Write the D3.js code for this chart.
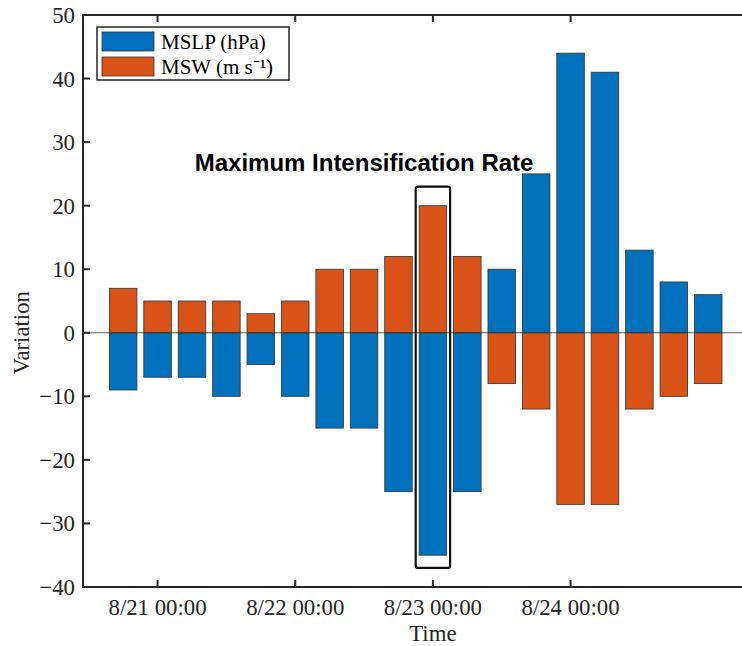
<!DOCTYPE html>
<html>
<head>
<meta charset="utf-8">
<script src="https://cdn.jsdelivr.net/npm/d3@7"></script>
<style>
  html, body { margin: 0; padding: 0; background: #fff; }
  svg { display: block; }
</style>
</head>
<body>
<svg id="chart" width="742" height="646"></svg>
<script>
// ---- data ----
const times = ["08/20 18:00","08/21 00:00","08/21 06:00","08/21 12:00","08/21 18:00",
  "08/22 00:00","08/22 06:00","08/22 12:00","08/22 18:00","08/23 00:00","08/23 06:00",
  "08/23 12:00","08/23 18:00","08/24 00:00","08/24 06:00","08/24 12:00","08/24 18:00","08/25 00:00"];
const mslp = [-9, -7, -7, -10, -5, -10, -15, -15, -25, -35, -25, 10, 25, 44, 41, 13, 8, 6];
const msw  = [7, 5, 5, 5, 3, 5, 10, 10, 12, 20, 12, -8, -12, -27, -27, -12, -10, -8];
const seriesNames = ["MSLP (hPa)", "MSW (m s\u207B\u00B9)"];
const yTicks = [-40, -30, -20, -10, 0, 10, 20, 30, 40, 50];
const xTickLabels = ["08/21 00:00", "08/22 00:00", "08/23 00:00", "08/24 00:00"];
const highlightTime = "08/23 00:00";
const highlightRange = [-37, 23];
const annotation = "Maximum Intensification Rate";

(function () {
const parse = d3.utcParse("%m/%d %H:%M");
const fmt = d3.utcFormat("%-m/%d %H:%M");
const colors = ["#0072BD", "#D95319"];

const svg = d3.select("#chart");
const pTop = 15, pBottom = 587, pLeft = 83;
const t0 = parse("08/21 00:00");
const pxPerHour = (571 - 158) / 72;
const dStart = d3.utcHour.offset(t0, -13), dEnd = d3.utcHour.offset(t0, 108);
const x = d3.scaleUtc().domain([dStart, dEnd])
  .range([pLeft, pLeft + 121 * pxPerHour]);
const pRight = x.range()[1];
const y = d3.scaleLinear().domain([-40, 50]).range([pBottom, pTop]);
const barW = 0.8 * 6 * pxPerHour;

const data = times.map((t, i) => ({ t: parse(t), mslp: mslp[i], msw: msw[i] }));

const g = svg.append("g");

function drawBars(key, color) {
  g.selectAll(null).data(data).enter().append("rect")
    .attr("x", d => x(d.t) - barW / 2)
    .attr("width", barW)
    .attr("y", d => y(Math.max(0, d[key])))
    .attr("height", d => Math.abs(y(d[key]) - y(0)))
    .attr("fill", color)
    .attr("stroke", "#333")
    .attr("stroke-width", 0.8);
}
drawBars("mslp", colors[0]);
drawBars("msw", colors[1]);

g.append("line").attr("x1", pLeft).attr("x2", pRight).attr("y1", y(0)).attr("y2", y(0))
  .attr("stroke", "#333").attr("stroke-width", 0.8);

const ht = parse(highlightTime);
g.append("rect")
  .attr("x", x(d3.utcHour.offset(ht, -3)))
  .attr("width", x(d3.utcHour.offset(ht, 3)) - x(d3.utcHour.offset(ht, -3)))
  .attr("y", y(highlightRange[1]))
  .attr("height", y(highlightRange[0]) - y(highlightRange[1]))
  .attr("rx", 2.5)
  .attr("fill", "none").attr("stroke", "#111").attr("stroke-width", 2.2);

g.append("text")
  .attr("x", x(parse("08/22 12:00")))
  .attr("y", y(25.5))
  .attr("text-anchor", "middle")
  .attr("font-family", "Liberation Sans, Arial, sans-serif")
  .attr("font-weight", "bold")
  .attr("font-size", 24)
  .attr("fill", "#000")
  .text(annotation);

const axCol = "#262626";
const tickFont = "Liberation Serif, Times New Roman, serif";
const fs = 22.8;
g.append("rect").attr("x", pLeft).attr("y", pTop).attr("width", pRight - pLeft).attr("height", pBottom - pTop)
  .attr("fill", "none").attr("stroke", axCol).attr("stroke-width", 2);

yTicks.forEach(v => {
  g.append("line").attr("x1", pLeft).attr("x2", pLeft + 7).attr("y1", y(v)).attr("y2", y(v))
    .attr("stroke", axCol).attr("stroke-width", 2);
  g.append("text").attr("x", pLeft - 8).attr("y", y(v)).attr("dy", "0.35em")
    .attr("text-anchor", "end").attr("font-family", tickFont).attr("font-size", fs)
    .attr("fill", axCol)
    .text(v < 0 ? "\u2212" + Math.abs(v) : v);
});

xTickLabels.map(parse).forEach(t => {
  g.append("line").attr("x1", x(t)).attr("x2", x(t)).attr("y1", pBottom).attr("y2", pBottom - 7)
    .attr("stroke", axCol).attr("stroke-width", 2);
  g.append("line").attr("x1", x(t)).attr("x2", x(t)).attr("y1", pTop).attr("y2", pTop + 7)
    .attr("stroke", axCol).attr("stroke-width", 2);
  g.append("text").attr("x", x(t)).attr("y", 615)
    .attr("text-anchor", "middle").attr("font-family", tickFont).attr("font-size", fs)
    .attr("fill", axCol).text(fmt(t));
});

g.append("text").attr("x", x(ht)).attr("y", 641).attr("text-anchor", "middle")
  .attr("font-family", tickFont).attr("font-size", fs).attr("fill", axCol).text("Time");
g.append("text").attr("transform", `translate(29,${y(0)}) rotate(-90)`)
  .attr("text-anchor", "middle").attr("font-family", tickFont).attr("font-size", fs)
  .attr("fill", axCol).text("Variation");

const lg = g.append("g");
lg.append("rect").attr("x", 97).attr("y", 27).attr("width", 192).attr("height", 53)
  .attr("fill", "#fff").attr("stroke", axCol).attr("stroke-width", 1.5);
seriesNames.forEach((name, i) => {
  const yy = 32 + i * 25;
  lg.append("rect").attr("x", 102).attr("y", yy).attr("width", 52).attr("height", 19)
    .attr("fill", colors[i]).attr("stroke", "#333").attr("stroke-width", 0.8);
  lg.append("text").attr("x", 161).attr("y", yy + 10).attr("dy", "0.35em")
    .attr("font-family", tickFont).attr("font-size", 21).attr("fill", "#000").text(name);
});
})();
</script>
</body>
</html>
